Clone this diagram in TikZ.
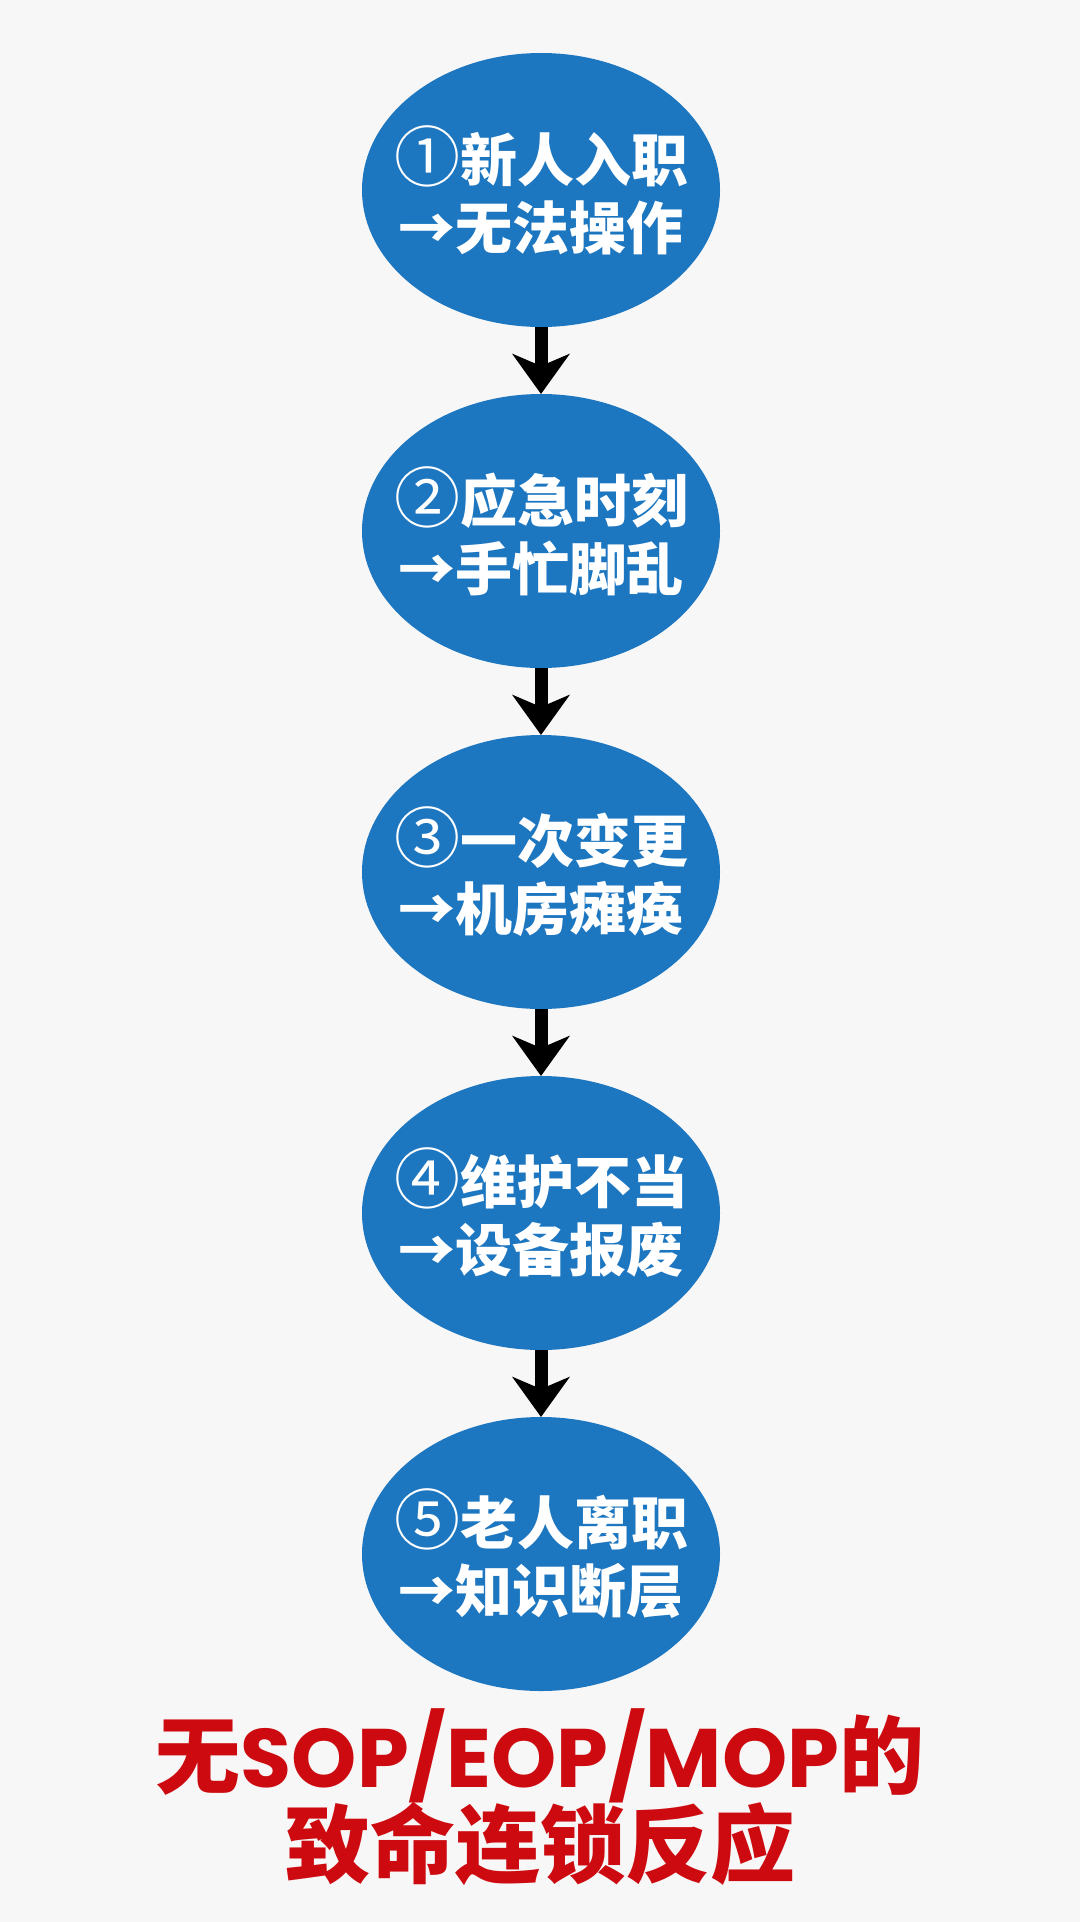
\documentclass[tikz,border=0pt]{standalone}
\usepackage{fontspec}
\setmainfont{Noto Sans CJK SC}
\newfontfamily\latinfont{Poppins}
\usetikzlibrary{arrows.meta,positioning,shapes.geometric}
\definecolor{pagebg}{HTML}{F7F7F7}
\definecolor{bubblue}{HTML}{1C76C0}
\definecolor{alertred}{HTML}{CC0A0F}
% circled step number, drawn a little larger and lighter than the text
\newcommand{\stepno}[1]{{\mdseries\fontsize{66}{68}\selectfont#1}}
\tikzset{
  bubble/.style={ellipse,fill=bubblue,draw=none,minimum width=358pt,
                 minimum height=274pt,inner sep=0pt,outer sep=0pt},
  bubtext/.style={text=white,align=center,inner sep=0pt,
                  font=\fontsize{57}{68}\selectfont\bfseries},
  downarr/.style={-{Stealth[length=40pt,width=57pt,inset=12pt]},
                  line width=13pt,draw=black},
  headline/.style={text=alertred,inner sep=0pt,
                   font=\fontsize{85}{89}\selectfont\bfseries}
}
\begin{document}
\begin{tikzpicture}[x=1pt,y=-1pt]
  \fill[pagebg] (0,0) rectangle (1080,1922);
  \node[bubble] (b1) at (541,190) {};
  \node[bubble] (b2) at (541,531) {};
  \node[bubble] (b3) at (541,872) {};
  \node[bubble] (b4) at (541,1213) {};
  \node[bubble] (b5) at (541,1554) {};
  \node[bubtext] (t1) at (b1) {\stepno{①}新人入职\\→无法操作};
  \node[bubtext] (t2) at (b2) {\stepno{②}应急时刻\\→手忙脚乱};
  \node[bubtext] (t3) at (b3) {\stepno{③}一次变更\\→机房瘫痪};
  \node[bubtext] (t4) at (b4) {\stepno{④}维护不当\\→设备报废};
  \node[bubtext] (t5) at (b5) {\stepno{⑤}老人离职\\→知识断层};
  \draw[downarr] (b1) -- (b2);
  \draw[downarr] (b2) -- (b3);
  \draw[downarr] (b3) -- (b4);
  \draw[downarr] (b4) -- (b5);
  \node[headline,anchor=base] (head1) at (540,1787)
    {无{\latinfont\fontsize{83}{89}\selectfont SOP/EOP/MOP}的};
  \node[headline,anchor=base] (head2) at (540,1876) {致命连锁反应};
\end{tikzpicture}
\end{document}
